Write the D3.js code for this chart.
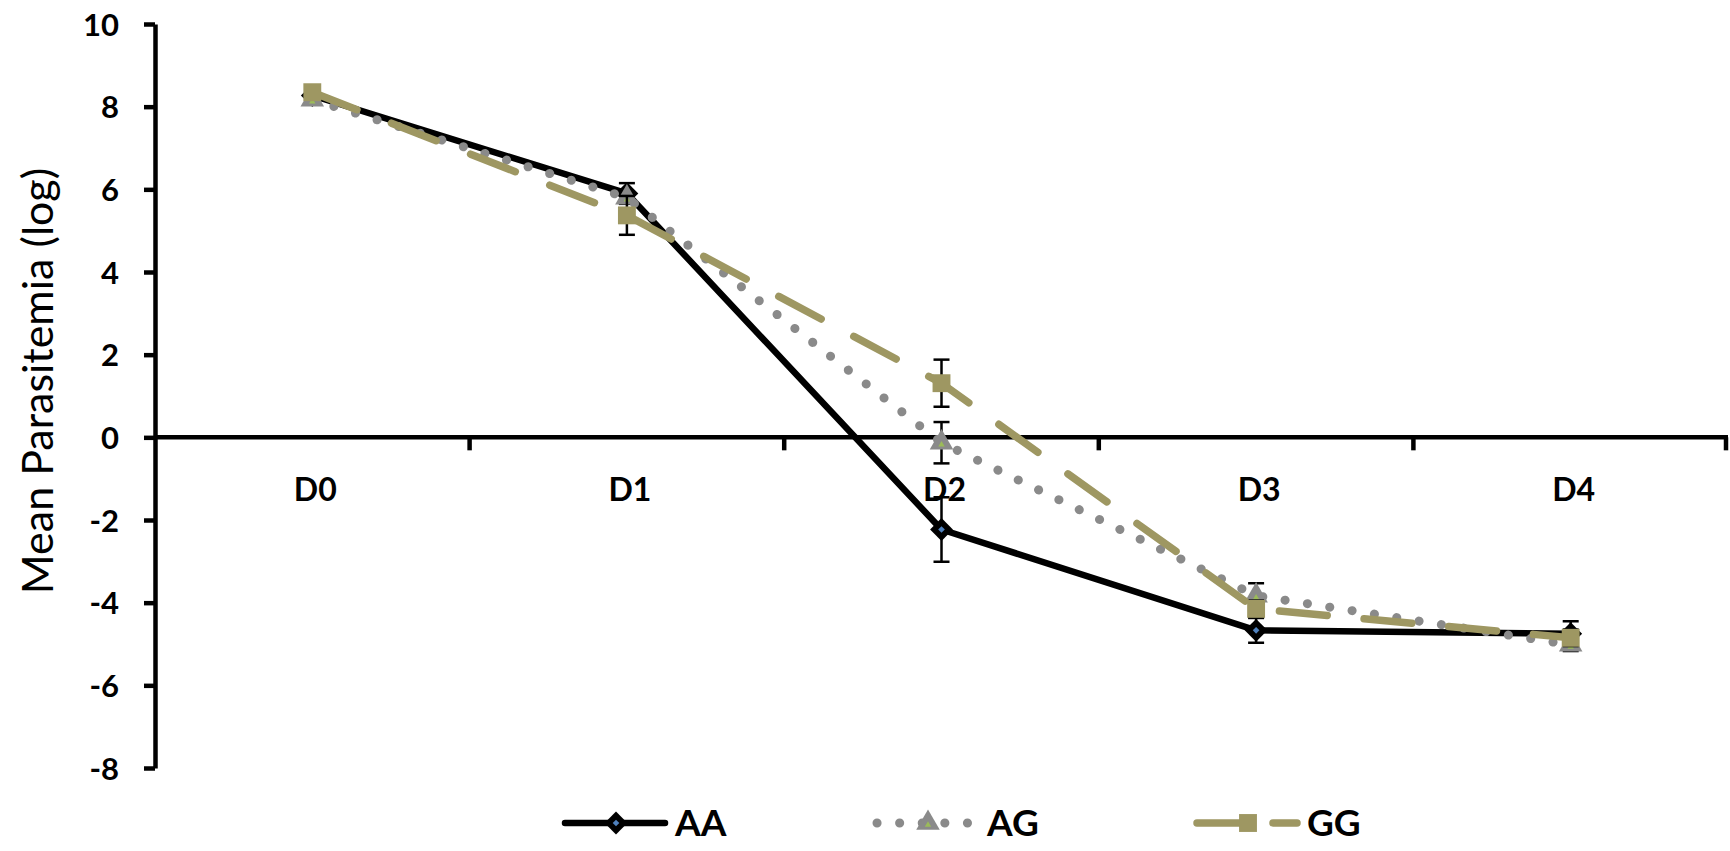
<!DOCTYPE html>
<html>
<head>
<meta charset="utf-8">
<script src="https://cdn.jsdelivr.net/npm/d3@7"></script>
<style>
  html, body { margin: 0; padding: 0; background: #ffffff; }
  svg { display: block; font-family: Lato, "Open Sans", sans-serif; }
</style>
</head>
<body>
<svg id="chart" width="1730" height="851"></svg>
<script>
// Days of follow-up
const categories = ["D0", "D1", "D2", "D3", "D4"];

// Mean log parasitemia per genotype
const seriesNames = ["AA", "AG", "GG"];
const valuesAA = [8.27, 5.90, -2.23, -4.67, -4.75];
const valuesAG = [8.17, 5.80, -0.13, -3.83, -5.02];
const valuesGG = [8.35, 5.37, 1.31, -4.15, -4.85];

// Standard error of each mean
const errorsAA = [0.10, 0.25, 0.78, 0.30, 0.30];
const errorsAG = [0.10, 0.15, 0.50, 0.30, 0.15];
const errorsGG = [0.10, 0.47, 0.57, 0.20, 0.20];

// Y axis ticks
const yTicks = [-8, -6, -4, -2, 0, 2, 4, 6, 8, 10];

const svg = d3.select("#chart");

const x = d3.scaleBand().domain(categories).range([155, 1728]).padding(0);
const y = d3.scaleLinear().domain([-8, 10]).range([768, 24]);
const cx = c => x(c) + x.bandwidth() / 2;

// ---- Y axis ----
const yAxis = svg.append("g")
  .attr("transform", `translate(${x.range()[0]},0)`)
  .call(d3.axisLeft(y).tickValues(yTicks).tickSize(11).tickPadding(25).tickSizeOuter(0).tickFormat(d => String(d)));
yAxis.select(".domain").attr("stroke", "#000").attr("stroke-width", 4.5);
yAxis.selectAll(".tick line").attr("stroke", "#000").attr("stroke-width", 4.5);
yAxis.selectAll(".tick text")
  .attr("fill", "#000")
  .attr("font-size", 31)
  .attr("font-weight", 700)
  .attr("font-family", "Lato, sans-serif")
  .attr("dy", "0.36em");

// ---- X axis along zero ----
const xAxis = svg.append("g").attr("class", "x-axis");
xAxis.append("line")
  .attr("x1", x.range()[0]).attr("x2", x.range()[1])
  .attr("y1", y(0)).attr("y2", y(0))
  .attr("stroke", "#000").attr("stroke-width", 4.5);
// tick marks on band boundaries
const boundaries = categories.slice(1).map(c => x(c)).concat([x.range()[1] - 2]);
xAxis.selectAll(".xtick").data(boundaries).enter().append("line")
  .attr("class", "xtick")
  .attr("x1", d => d).attr("x2", d => d)
  .attr("y1", y(0)).attr("y2", y(0) + 13)
  .attr("stroke", "#000").attr("stroke-width", 4.5);
xAxis.selectAll(".xlabel").data(categories).enter().append("text")
  .attr("class", "xlabel")
  .attr("x", d => cx(d) + 3)
  .attr("y", y(0) + 52)
  .attr("dy", "0.36em")
  .attr("text-anchor", "middle")
  .attr("font-size", 32)
  .attr("font-weight", 700)
  .attr("fill", "#000")
  .text(d => d);

// ---- Y title ----
svg.append("text")
  .attr("transform", `translate(38,381) rotate(-90)`)
  .attr("text-anchor", "middle")
  .attr("dy", "0.36em")
  .attr("font-size", 43)
  .attr("fill", "#000")
  .text("Mean Parasitemia (log)");

// ---- Series styles ----
const styles = {
  AA: { color: "#000000", width: 6.5, dash: null, cap: "round" },
  AG: { color: "#8a8a8a", width: 9, dash: "0.1 22.5", cap: "round" },
  GG: { color: "#9e9762", width: 7.5, dash: "48 37", cap: "round" }
};

function drawMarker(g, name, px, py) {
  if (name === "AA") {
    g.append("path")
      .attr("d", d3.symbol(d3.symbolSquare, 260)())
      .attr("transform", `translate(${px},${py}) rotate(45)`)
      .attr("fill", "#000");
    g.append("path")
      .attr("d", d3.symbol(d3.symbolSquare, 22)())
      .attr("transform", `translate(${px},${py}) rotate(45)`)
      .attr("fill", "#4f81bd");
  } else if (name === "AG") {
    g.append("path")
      .attr("d", d3.symbol(d3.symbolTriangle, 240)())
      .attr("transform", `translate(${px},${py})`)
      .attr("fill", "#8a8a8a");
    g.append("path")
      .attr("d", d3.symbol(d3.symbolTriangle, 18)())
      .attr("transform", `translate(${px},${py + 2})`)
      .attr("fill", "#9bbb59");
  } else {
    g.append("path")
      .attr("d", d3.symbol(d3.symbolSquare, 320)())
      .attr("transform", `translate(${px},${py})`)
      .attr("fill", "#9e9762");
  }
}

const seriesData = [
  { name: "AA", values: valuesAA, errors: errorsAA },
  { name: "AG", values: valuesAG, errors: errorsAG },
  { name: "GG", values: valuesGG, errors: errorsGG }
];

const line = d3.line()
  .x((d, i) => cx(categories[i]))
  .y(d => y(d));

seriesData.forEach(s => {
  const st = styles[s.name];
  const g = svg.append("g").attr("class", "series-" + s.name);
  // error bars
  const eb = g.append("g");
  s.values.forEach((v, i) => {
    const px = cx(categories[i]);
    const lo = y(v - s.errors[i]), hi = y(v + s.errors[i]);
    eb.append("line").attr("x1", px).attr("x2", px).attr("y1", lo).attr("y2", hi)
      .attr("stroke", "#000").attr("stroke-width", 2.5);
    [lo, hi].forEach(yy => eb.append("line")
      .attr("x1", px - 8).attr("x2", px + 8).attr("y1", yy).attr("y2", yy)
      .attr("stroke", "#000").attr("stroke-width", 2.5));
  });
  // line
  g.append("path")
    .datum(s.values)
    .attr("d", line)
    .attr("fill", "none")
    .attr("stroke", st.color)
    .attr("stroke-width", st.width)
    .attr("stroke-linecap", st.cap)
    .attr("stroke-linejoin", "round")
    .attr("stroke-dasharray", st.dash);
  // markers
  s.values.forEach((v, i) => drawMarker(g, s.name, cx(categories[i]), y(v)));
});

// ---- Legend ----
const legendY = 823;
const legendX = [565, 877, 1197];
const legend = svg.append("g").attr("class", "legend");
seriesNames.forEach((name, i) => {
  const st = styles[name];
  const lx = legendX[i];
  const g = legend.append("g");
  g.append("line")
    .attr("x1", lx).attr("x2", lx + 100)
    .attr("y1", legendY).attr("y2", legendY)
    .attr("stroke", st.color)
    .attr("stroke-width", st.width)
    .attr("stroke-linecap", st.cap)
    .attr("stroke-dasharray", name === "GG" ? "48 28" : st.dash);
  drawMarker(g, name, lx + 51, legendY);
  g.append("text")
    .attr("x", lx + 110)
    .attr("y", legendY)
    .attr("dy", "0.36em")
    .attr("font-size", 37)
    .attr("font-weight", 700)
    .attr("fill", "#000")
    .text(name);
});
</script>
</body>
</html>
